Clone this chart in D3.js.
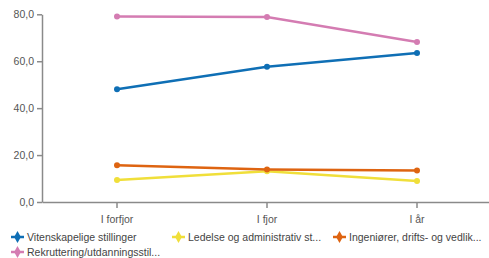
<html>
<head>
  <meta charset="utf-8">
  <script src="https://d3js.org/d3.v7.min.js"></script>
  <style>
    body { margin: 0; background: #fff; }
    text { font-family: "Liberation Sans", Arial, sans-serif; }
  </style>
</head>
<body>
  <script>

    var width = 489,
        height = 258;

    var periods = ['I forfjor', 'I fjor', 'I år'];
    var names = ['Vitenskapelige stillinger', 'Ledelse og administrativ st...',
                 'Ingeniører, drifts- og vedlik...', 'Rekruttering/utdanningsstil...'];
    var colors = ['#0f6fb5', '#f0df3a', '#de6411', '#d47cb2'];
    var vitenskap = [48.1, 57.6, 63.5];
    var ledelse = [9.4, 13.1, 8.9];
    var ingenior = [15.7, 13.9, 13.4];
    var rekruttering = [79.1, 78.8, 68.2];
    var yTicks = [0, 20, 40, 60, 80];

    var series = [vitenskap, ledelse, ingenior, rekruttering];
    // draw order: pink and blue on top like the reference
    var drawOrder = [1, 2, 3, 0];

    var svg = d3.select('body')
      .append('svg')
      .attr('width', width)
      .attr('height', height);

    var x = d3.scaleBand()
      .domain(periods)
      .range([42, 492]);

    var y = d3.scaleLinear()
      .domain([0, 80])
      .range([202, 14.3]);

    var fmt = function(d) { return d3.format('.1f')(d).replace('.', ','); };

    var yAxis = svg.append('g')
      .attr('transform', 'translate(42,0)')
      .call(d3.axisLeft(y).tickValues(yTicks).tickFormat(fmt).tickSize(5).tickSizeOuter(0));

    var xAxis = svg.append('g')
      .attr('transform', 'translate(0,202)')
      .call(d3.axisBottom(x).tickSize(6).tickSizeOuter(0).tickPadding(8));

    [yAxis, xAxis].forEach(function(a) {
      a.select('.domain').attr('stroke', '#8a8a8a').attr('stroke-width', 1.5);
      a.selectAll('.tick line').attr('stroke', '#8a8a8a').attr('stroke-width', 1.5);
      a.selectAll('.tick text').attr('fill', '#555').style('font-size', '10.5px');
    });

    var line = d3.line()
      .x(function(d, i) { return x(periods[i]) + x.bandwidth() / 2; })
      .y(function(d) { return y(d); });

    drawOrder.forEach(function(k) {
      var g = svg.append('g');
      g.append('path')
        .attr('d', line(series[k]))
        .attr('fill', 'none')
        .attr('stroke', colors[k])
        .attr('stroke-width', 2.5);
      g.selectAll('circle')
        .data(series[k])
        .enter()
        .append('circle')
        .attr('cx', function(d, i) { return x(periods[i]) + x.bandwidth() / 2; })
        .attr('cy', function(d) { return y(d); })
        .attr('r', 3)
        .attr('fill', colors[k]);
    });

    // legend
    var legendPos = [[11, 237], [172, 237], [333, 237], [11, 252]];
    var legend = svg.append('g');
    names.forEach(function(n, k) {
      var lg = legend.append('g')
        .attr('transform', 'translate(' + legendPos[k][0] + ',' + legendPos[k][1] + ')');
      lg.append('line')
        .attr('x1', 0).attr('x2', 13)
        .attr('y1', 0).attr('y2', 0)
        .attr('stroke', colors[k])
        .attr('stroke-width', 2.5);
      lg.append('path')
        .attr('d', d3.symbol().type(d3.symbolDiamond).size(40)())
        .attr('transform', 'translate(6.5,0)')
        .attr('fill', colors[k]);
      lg.append('text')
        .attr('x', 16)
        .attr('y', 4)
        .attr('fill', '#444')
        .style('font-size', '10.5px')
        .text(n);
    });

  </script>
</body>
</html>
